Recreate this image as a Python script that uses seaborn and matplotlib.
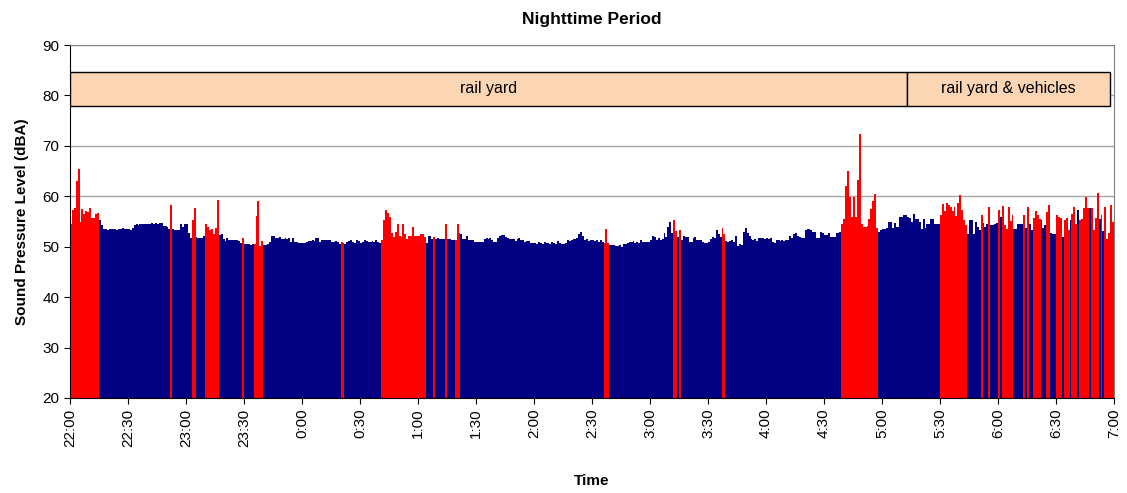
import numpy as np
import pandas as pd
import seaborn as sns
import matplotlib.pyplot as plt
from matplotlib.patches import Rectangle

# one value per minute, 22:00 -> 7:00, one row per half hour (dBA)
levels = [
    [54.5,57.3,57.6,63.1,65.4,55.0,57.5,56.5,57.0,56.9,57.6,55.6,55.6,56.5,56.6,55.2,54.3,53.6,53.5,53.4,53.6,53.5,53.6,53.5,53.4,53.6,53.5,53.7,53.6,53.5],
    [53.6,53.4,53.8,54.3,54.5,54.4,54.5,54.6,54.5,54.6,54.6,54.5,54.7,54.6,54.7,54.6,54.7,54.8,54.2,54.1,54.0,53.5,58.3,53.6,53.3,53.3,53.3,54.5,53.9,54.6],
    [54.6,52.7,51.8,55.2,57.6,51.9,51.8,51.7,51.8,52.2,54.6,53.9,53.3,53.6,52.5,53.8,59.2,52.4,52.6,51.6,51.1,51.8,51.3,51.4,51.3,51.3,51.4,51.2,50.8,51.8],
    [50.5,50.5,50.6,50.4,50.5,50.5,56.1,59.1,50.2,51.2,50.4,50.4,50.5,51.0,52.1,52.1,51.8,51.8,51.9,51.6,51.6,51.7,51.6,51.8,51.0,51.8,51.0,50.9,50.8,50.8],
    [50.8,50.8,51.0,51.2,51.2,51.3,51.2,51.8,51.8,51.0,51.4,51.4,51.3,51.4,51.4,51.0,51.0,51.2,50.9,50.6,51.0,50.8,50.5,50.9,51.2,51.3,51.0,50.8,51.4,51.2],
    [50.8,51.0,51.3,51.1,51.0,50.9,51.2,51.0,51.4,51.0,50.8,51.3,55.3,57.3,56.7,55.8,52.7,51.9,52.9,54.5,52.1,52.0,54.5,52.5,51.6,52.2,52.2,53.9,52.2,52.2],
    [52.2,52.5,52.5,52.0,50.8,52.2,52.2,51.5,52.0,51.6,51.8,51.6,51.5,51.6,54.6,51.6,51.5,51.3,51.3,51.3,54.5,52.7,52.5,51.6,51.6,52.2,51.3,51.3,51.3,51.0],
    [51.0,51.0,50.9,51.0,51.5,51.7,51.6,51.8,51.3,51.0,51.0,51.7,52.2,52.3,52.4,52.0,51.8,51.6,51.5,51.5,51.2,51.5,51.8,51.4,51.3,51.0,51.2,51.1,50.8,50.7],
    [50.8,50.6,50.9,50.8,50.6,50.9,50.7,50.8,50.5,51.0,50.7,50.6,51.1,50.8,50.5,50.6,50.8,51.3,51.2,51.3,51.5,51.6,51.8,52.5,53.0,52.2,51.4,51.5,51.2,51.4],
    [51.3,51.2,51.3,51.0,51.3,51.0,50.8,53.5,50.8,50.4,50.3,50.3,50.2,50.1,50.3,50.0,50.5,50.6,50.8,51.0,51.0,51.2,50.8,51.0,50.7,51.3,50.9,51.0,51.0,51.0],
    [51.3,52.2,52.0,51.4,51.8,51.4,51.6,52.7,52.0,54.0,54.9,52.8,55.2,53.2,52.0,53.4,51.3,52.2,52.0,51.9,51.0,51.0,51.7,52.0,51.3,51.4,51.3,51.0,50.8,50.8],
    [50.9,51.6,52.0,51.8,53.3,52.5,52.0,53.8,52.5,51.2,51.0,51.2,51.3,50.9,52.2,50.2,50.5,50.3,52.9,53.8,52.8,52.2,51.5,51.3,51.6,51.2,51.7,51.8,51.8,51.6],
    [51.7,51.5,51.7,51.0,50.8,51.3,51.4,51.2,51.3,51.2,51.3,51.3,52.2,51.8,52.6,52.8,52.2,51.9,51.8,51.7,53.3,53.5,53.5,53.4,53.0,53.0,51.8,51.8,53.0,52.8],
    [52.4,52.4,52.8,52.0,52.0,51.9,52.8,52.8,52.9,54.5,55.5,62.1,65.1,59.8,55.8,59.9,55.8,63.2,72.3,54.6,54.0,54.0,54.1,55.5,57.5,59.0,60.5,53.8,53.0,53.3],
    [53.6,53.6,53.8,54.9,54.9,53.7,54.8,54.0,54.0,55.8,55.8,56.2,56.2,55.8,55.6,54.9,56.4,55.5,55.4,54.9,53.5,55.5,53.8,54.6,54.6,55.5,55.5,54.6,54.5,54.5],
    [56.3,58.5,57.0,58.7,58.3,57.9,57.0,57.9,56.0,58.7,60.3,57.3,55.3,54.4,52.6,55.2,55.2,52.6,55.0,54.0,53.3,56.3,54.7,54.0,54.5,57.9,54.4,54.4,54.6,54.8],
    [57.2,55.8,58.1,54.3,53.5,57.9,55.1,56.3,53.5,53.6,54.6,54.6,54.5,56.2,53.8,57.9,54.6,53.3,55.6,57.0,56.3,55.4,55.2,53.8,54.3,56.8,58.3,52.8,52.6,52.5],
    [56.3,55.9,55.7,52.0,55.2,55.6,53.3,55.2,56.5,57.9,54.6,57.2,55.3,55.4,57.6,59.8,57.6,57.6,57.6,53.4,55.7,60.6,55.4,56.2,53.1,57.9,51.6,52.8,58.3,55.0],
]

# 1 = red (event), 0 = background, same layout as levels
events = [
    "111111111111111000000000000000",
    "000000000000000000000010000000",
    "000110000011111110000000000001",
    "000001111100000000000000000000",
    "000000000000000000001100000000",
    "000000000001111111111111111111",
    "111100001000001000011100000000",
    "000000000000000000000000000000",
    "000000000000000000000000000000",
    "000000111000000000000000000000",
    "000000000000110100000000000000",
    "000000011000000000000000000000",
    "000000000000000000000000000000",
    "000000000111111111111111111100",
    "000000000000000000000000000000",
    "111111111111110000000100010000",
    "101111110000010100111100011000",
    "111011101110111110111101011111",
]

tick_labels = ['22:00', '22:30', '23:00', '23:30', '0:00', '0:30', '1:00', '1:30', '2:00',
               '2:30', '3:00', '3:30', '4:00', '4:30', '5:00', '5:30', '6:00', '6:30', '7:00']

zone_names = ['rail yard', 'rail yard & vehicles']
zone_edges = [-0.5, 432.5, 537.5]   # minutes after 22:00

df = pd.DataFrame({
    'level': [v for row in levels for v in row],
    'event': [int(c) for row in events for c in row],
})
df['minute'] = np.arange(len(df))

sns.set_style('white')
plt.rcParams['font.family'] = ['Liberation Sans', 'DejaVu Sans']
plt.rcParams['text.color'] = 'black'
plt.rcParams['axes.labelcolor'] = 'black'
plt.rcParams['xtick.color'] = 'black'
plt.rcParams['ytick.color'] = 'black'

fig, ax = plt.subplots(figsize=(11.27, 4.93), dpi=100)
fig.subplots_adjust(left=0.062, right=0.9885, top=0.9087, bottom=0.1927)

sns.barplot(data=df, x='minute', y='level', hue='event', palette={0: '#000080', 1: '#FF0000'},
            saturation=1, dodge=False, width=1.0, linewidth=0, errorbar=None, legend=False, ax=ax)

ax.set_ylim(20, 90)
ax.set_yticks(range(20, 91, 10))
ax.set_xlim(-0.5, len(df) - 0.5)
ax.set_xticks(np.arange(0, len(df) + 1, 30) - 0.5)
ax.set_xticklabels(tick_labels, rotation=90, fontsize=11)
ax.tick_params(axis='y', labelsize=11, length=4, direction='out', left=True)
ax.tick_params(axis='x', length=4, direction='out', bottom=True)
ax.yaxis.grid(True, color='#a6a6a6', lw=1)
ax.set_axisbelow(True)

for s in ['left', 'bottom']:
    ax.spines[s].set_color('black')
for s in ['top', 'right']:
    ax.spines[s].set_color('#808080')

# source zones
for name, x0, x1 in zip(zone_names, zone_edges[:-1], zone_edges[1:]):
    ax.add_patch(Rectangle((x0, 78.0), x1 - x0, 6.7, facecolor='#FCD5B4', edgecolor='black', lw=1, zorder=3))
    ax.text((x0 + x1) / 2, 81.35, name, ha='center', va='center', fontsize=11.5, zorder=4)

ax.set_title('Nighttime Period', fontsize=12.5, fontweight='bold', pad=15)
ax.set_xlabel('Time', fontsize=11, fontweight='bold', labelpad=20)
ax.set_ylabel('Sound Pressure Level (dBA)', fontsize=11, fontweight='bold', labelpad=10)

plt.savefig('out.png', dpi=100)
